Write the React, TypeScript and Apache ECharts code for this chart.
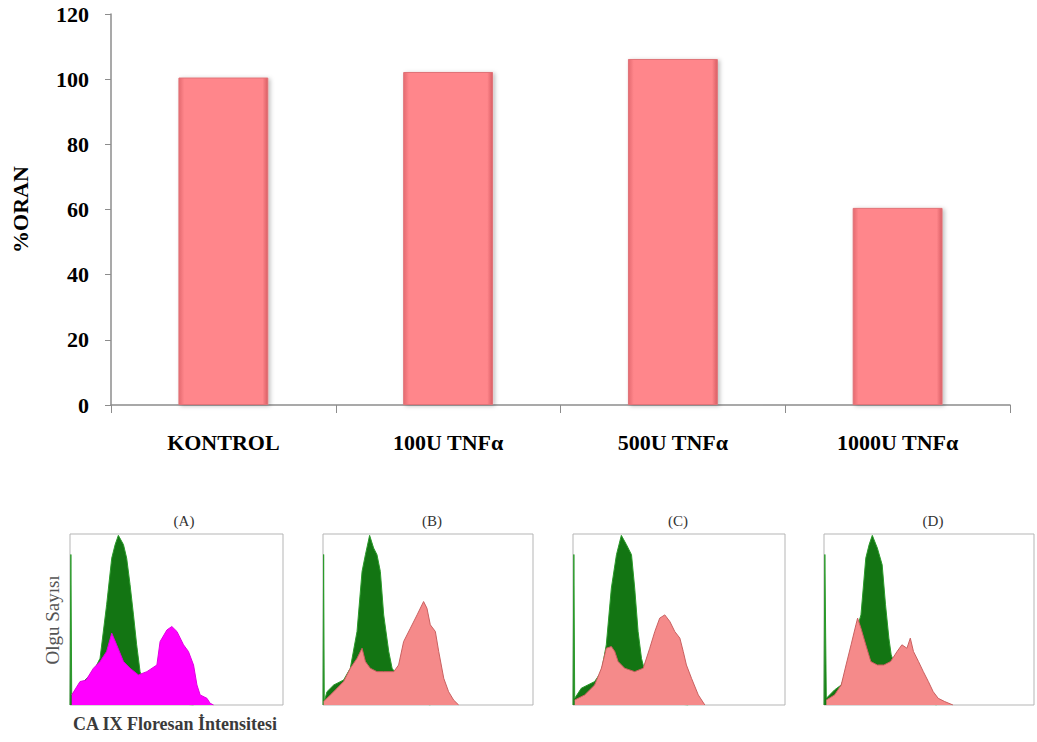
import React, { useEffect, useRef } from "react";
import * as echarts from "echarts";

const categories = ["KONTROL", "100U TNFα", "500U TNFα", "1000U TNFα"];
const barValues = [100.5, 102.2, 106.2, 60.5];
const yTicks = [0, 20, 40, 60, 80, 100, 120];

const panelTitles = ["(A)", "(B)", "(C)", "(D)"];

// Flow cytometry histograms: [intensity %, count %]
const greenA = [[0, 0], [0.4, 88], [0.8, 5.9], [4.7, 11.7], [11.0, 19.5], [14.1, 27.3], [17.2, 58.6], [19.6, 85.9], [21.2, 93.8], [22.7, 99.2], [25.1, 93.8], [26.6, 85.9], [28.2, 70.3], [29.8, 52.7], [31.3, 35.2], [32.9, 19.5], [34.5, 13.7], [37.6, 7.8], [42.3, 3.9], [50.2, 1.0], [58.0, 0]];
const magentaA = [[0.8, 5.9], [4.7, 13.7], [7.5, 14.5], [11.0, 21.5], [14.1, 25.4], [17.2, 31.3], [19.6, 42.0], [21.9, 35.2], [25.1, 25.4], [28.2, 21.5], [32.1, 17.6], [36.1, 19.5], [40.8, 23.4], [42.3, 37.1], [45.5, 43.9], [47.8, 45.9], [50.2, 43.0], [53.3, 35.2], [55.6, 31.3], [58.0, 23.4], [59.6, 11.7], [61.1, 5.9], [64.3, 3.9], [65.8, 1.0], [67.4, 0]];

const greenB = [[0, 0], [0.3, 88], [0.6, 2.0], [1.9, 7.8], [5.1, 11.7], [9.8, 14.6], [13.0, 21.5], [16.2, 43.0], [18.6, 78.1], [20.2, 87.9], [22.2, 99.2], [24.1, 91.8], [25.7, 87.9], [27.3, 78.1], [28.9, 52.7], [31.3, 31.3], [32.9, 21.5], [35.2, 17.6], [38.4, 7.8], [44.8, 2.0], [51.1, 0]];
const pinkB = [[0.3, 2.0], [3.5, 5.9], [6.7, 9.8], [9.8, 13.7], [13.0, 21.5], [16.2, 27.3], [18.6, 33.2], [20.2, 25.4], [22.5, 21.5], [25.7, 19.5], [28.9, 19.5], [33.7, 19.5], [36.0, 23.4], [38.4, 37.1], [41.6, 44.9], [44.8, 52.7], [47.9, 60.5], [49.5, 56.6], [51.1, 46.9], [53.5, 43.0], [55.1, 31.3], [57.5, 15.6], [59.8, 7.8], [62.2, 2.9], [64.6, 0]];

const greenC = [[0, 0], [0.4, 88], [0.8, 3.9], [3.9, 9.8], [10.2, 13.7], [13.4, 19.5], [15.7, 35.2], [18.1, 68.4], [20.5, 87.9], [22.8, 99.2], [25.2, 93.8], [27.6, 87.9], [29.1, 68.4], [30.7, 43.0], [32.3, 27.3], [33.9, 19.5], [37.0, 11.7], [41.7, 4.9], [48.0, 1.0], [54.3, 0]];
const pinkC = [[0.8, 2.9], [5.5, 5.9], [10.2, 11.7], [13.4, 21.5], [15.7, 33.2], [18.1, 34.2], [19.7, 31.3], [21.3, 25.4], [24.4, 21.5], [29.1, 19.5], [33.1, 21.5], [36.2, 33.2], [38.6, 43.0], [40.9, 50.8], [43.3, 52.7], [45.7, 48.8], [48.0, 43.0], [50.4, 39.1], [52.0, 31.3], [53.5, 23.4], [55.9, 15.6], [59.1, 5.9], [62.2, 0]];

const greenD = [[0, 0], [0.4, 88], [1.1, 3.9], [5.0, 8.8], [8.2, 11.7], [11.3, 21.5], [14.4, 39.1], [17.6, 52.7], [19.9, 85.9], [21.5, 93.8], [23.0, 99.2], [25.4, 91.8], [27.7, 82.0], [29.3, 58.6], [30.9, 39.1], [32.0, 29.3], [33.2, 25.4], [36.4, 17.6], [41.1, 7.8], [47.3, 2.0], [53.6, 0]];
const pinkD = [[1.1, 2.9], [5.0, 5.9], [8.2, 11.7], [10.5, 23.4], [12.9, 35.2], [15.2, 46.9], [16.0, 50.8], [17.6, 44.9], [19.9, 35.2], [22.3, 25.4], [25.4, 23.4], [28.5, 23.4], [31.7, 25.4], [34.8, 31.3], [37.1, 35.2], [39.5, 33.2], [41.1, 39.1], [42.6, 31.3], [45.0, 25.4], [47.3, 19.5], [49.7, 13.7], [52.0, 7.8], [54.4, 3.9], [57.5, 2.0], [61.4, 0]];

const panelGreen = [greenA, greenB, greenC, greenD];
const panelOverlay = [magentaA, pinkB, pinkC, pinkD];

const SERIF = "'Liberation Serif', 'Times New Roman', serif";

export default function App() {
  const ref = useRef<HTMLDivElement>(null);
  useEffect(() => {
    if (!ref.current) return;
    const chart = echarts.init(ref.current, undefined, { renderer: "svg" });

    const panelBoxes = [
      { left: 70, right: 754 },
      { left: 323, right: 504 },
      { left: 573, right: 252 },
      { left: 824, right: 3 },
    ];
    const panelCenters = [184, 432, 678, 933];

    const grids: any[] = [
      { left: 111, right: 27, top: 14, bottom: 337 },
    ];
    const xAxes: any[] = [
      {
        type: "category",
        gridIndex: 0,
        data: categories,
        boundaryGap: true,
        axisLine: { lineStyle: { color: "#8c8c8c", width: 1.5 } },
        axisTick: { show: true, length: 8, alignWithLabel: false, lineStyle: { color: "#8c8c8c" } },
        axisLabel: { fontFamily: SERIF, fontWeight: "bold", fontSize: 22, color: "#000", margin: 26 },
      },
    ];
    const yAxes: any[] = [
      {
        type: "value",
        gridIndex: 0,
        min: 0,
        max: 120,
        interval: 20,
        name: "%ORAN",
        nameLocation: "middle",
        nameRotate: 90,
        nameGap: 80,
        nameTextStyle: { fontFamily: SERIF, fontWeight: "bold", fontSize: 22, color: "#000" },
        axisLine: { show: true, lineStyle: { color: "#8c8c8c", width: 1.5 } },
        axisTick: { show: true, length: 6, lineStyle: { color: "#8c8c8c" } },
        splitLine: { show: false },
        axisLabel: { fontFamily: SERIF, fontWeight: "bold", fontSize: 22, color: "#000", margin: 22,
          formatter: (v: number) => (yTicks.includes(v) ? String(v) : "") },
      },
    ];
    const series: any[] = [
      {
        type: "bar",
        xAxisIndex: 0,
        yAxisIndex: 0,
        data: barValues,
        barWidth: "40%",
        itemStyle: {
          color: new echarts.graphic.LinearGradient(0, 0, 1, 0, [
            { offset: 0, color: "#e56a70" },
            { offset: 0.06, color: "#ff868b" },
            { offset: 0.94, color: "#ff868b" },
            { offset: 1, color: "#d95e64" },
          ]),
          borderColor: "#e07378",
          borderWidth: 1,
          shadowColor: "rgba(0,0,0,0.25)",
          shadowBlur: 4,
          shadowOffsetX: 2,
          shadowOffsetY: 1,
        },
      },
    ];

    panelBoxes.forEach((b, i) => {
      const gi = i + 1;
      grids.push({
        left: b.left, right: b.right, top: 534, bottom: 37,
        show: true, borderColor: "#b5b5b5", borderWidth: 1, backgroundColor: "#fff",
      });
      xAxes.push({ type: "value", gridIndex: gi, min: 0, max: 100, show: false });
      yAxes.push({ type: "value", gridIndex: gi, min: 0, max: 100, show: false });
      series.push({
        type: "line",
        xAxisIndex: gi,
        yAxisIndex: gi,
        z: 2,
        data: panelGreen[i],
        symbol: "none",
        lineStyle: { color: "#2a9a2a", width: 1 },
        areaStyle: { color: "#137513", opacity: 1 },
      });
      series.push({
        type: "line",
        xAxisIndex: gi,
        yAxisIndex: gi,
        z: 3,
        data: panelOverlay[i],
        symbol: "none",
        lineStyle: { color: i === 0 ? "#e000e0" : "#c86060", width: 1 },
        areaStyle: { color: i === 0 ? "#ff00ff" : "#f58a8a", opacity: 1 },
      });
    });

    const graphic: any[] = panelTitles.map((t, i) => ({
      type: "text",
      x: panelCenters[i],
      y: 521,
      style: { text: t, fontFamily: SERIF, fontSize: 15, fill: "#333", align: "center", verticalAlign: "middle" },
    }));
    graphic.push({
      type: "text",
      x: 52,
      y: 620,
      rotation: Math.PI / 2,
      style: { text: "Olgu Sayısı", fontFamily: SERIF, fontSize: 19, fill: "#555", align: "center", verticalAlign: "middle" },
    });
    graphic.push({
      type: "text",
      x: 175,
      y: 724,
      style: { text: "CA IX Floresan İntensitesi", fontFamily: SERIF, fontSize: 18, fontWeight: "bold", fill: "#3a3a3a", align: "center", verticalAlign: "middle" },
    });

    chart.setOption({
      animation: false,
      backgroundColor: "#fff",
      grid: grids,
      xAxis: xAxes,
      yAxis: yAxes,
      series,
      graphic,
    });
    return () => chart.dispose();
  }, []);
  return <div ref={ref} style={{ position: "fixed", left: 0, top: 0, width: 1037, height: 742 }} />;
}
